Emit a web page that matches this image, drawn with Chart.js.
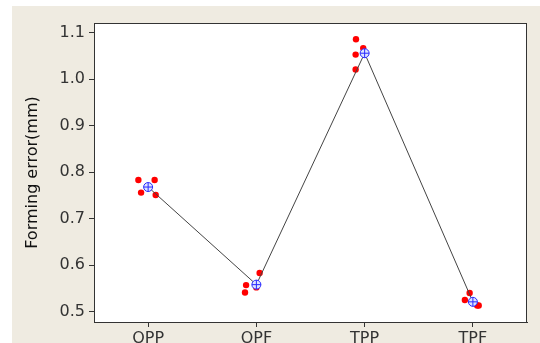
<!DOCTYPE html>
<html>
<head>
<meta charset="utf-8">
<script src="https://cdn.jsdelivr.net/npm/chart.js@4"></script>
<style>
  html, body { margin: 0; padding: 0; background: #fff; }
  #wrap { position: absolute; left: 12px; top: 6px; width: 528px; height: 337px; background: #efebe1; }
</style>
</head>
<body>
<div id="wrap"><canvas id="chart" width="528" height="337"></canvas></div>
<script>
// categorias e valores
const categories = ['OPP', 'OPF', 'TPP', 'TPF'];
const means = [0.768, 0.558, 1.056, 0.521];

// observacoes (4 por grupo) e deslocamento horizontal (jitter) de cada uma
const obsOPP = [0.783, 0.783, 0.756, 0.751];
const obsOPF = [0.557, 0.541, 0.552, 0.583];
const obsTPP = [1.086, 1.067, 1.053, 1.021];
const obsTPF = [0.540, 0.525, 0.513, 0.513];
const jitOPP = [-0.09, 0.06, -0.065, 0.07];
const jitOPF = [-0.095, -0.105, 0.0, 0.03];
const jitTPP = [-0.08, -0.013, -0.083, -0.083];
const jitTPF = [-0.03, -0.074, 0.054, 0.04];

const yTicks = [0.5, 0.6, 0.7, 0.8, 0.9, 1.0, 1.1];

const groups = [[obsOPP, jitOPP], [obsOPF, jitOPF], [obsTPP, jitTPP], [obsTPF, jitTPF]];
const redPts = [];
groups.forEach((g, i) => g[0].forEach((v, k) => redPts.push({ x: i + 1 + g[1][k], y: v })));
const meanPts = means.map((v, i) => ({ x: i + 1, y: v }));

// fundo branco e borda em volta da area do grafico
const frame = {
    id: 'frame',
    beforeDraw(chart) {
        const a = chart.chartArea, c = chart.ctx;
        c.save();
        c.fillStyle = '#fff';
        c.fillRect(a.left, a.top, a.right - a.left, a.bottom - a.top);
        c.restore();
    },
    afterDraw(chart) {
        const a = chart.chartArea, c = chart.ctx;
        c.save();
        c.strokeStyle = '#333';
        c.lineWidth = 1;
        c.strokeRect(a.left + 0.5, a.top + 0.5, a.right - a.left - 1, a.bottom - a.top);
        c.restore();
    }
};

new Chart(document.getElementById('chart'), {
    type: 'scatter',
    data: {
        datasets: [
            { type: 'scatter', data: meanPts, pointStyle: 'cross', pointRadius: 4.5,
              pointBorderColor: '#2a2aff', pointBorderWidth: 1, order: 0 },
            { type: 'line', data: meanPts, borderColor: '#444', borderWidth: 1, tension: 0,
              pointStyle: 'circle', pointRadius: 4.5, pointBorderColor: '#2a2aff',
              pointBackgroundColor: '#dde4ff', pointBorderWidth: 1, order: 1 },
            { type: 'scatter', data: redPts, pointStyle: 'circle', pointRadius: 3.2,
              pointBackgroundColor: '#ff0000', pointBorderColor: '#ff0000', pointBorderWidth: 0, order: 2 }
        ]
    },
    options: {
        responsive: false,
        animation: false,
        layout: { padding: { top: 17, right: 13, left: 0, bottom: 0 } },
        plugins: { legend: { display: false }, tooltip: { enabled: false } },
        scales: {
            x: {
                type: 'linear', min: 0.5, max: 4.5,
                afterBuildTicks: s => { s.ticks = categories.map((c, i) => ({ value: i + 1 })); },
                afterFit: s => { s.height = 21; },
                grid: { drawOnChartArea: false, drawTicks: true, tickLength: 5, color: '#333' },
                border: { color: '#333' },
                ticks: { padding: 2, color: '#333', font: { family: 'DejaVu Sans', size: 16 },
                         callback: v => categories[v - 1] }
            },
            y: {
                min: 0.4776, max: 1.121,
                afterBuildTicks: s => { s.ticks = yTicks.map(v => ({ value: v })); },
                afterFit: s => { s.width = 82; },
                grid: { drawOnChartArea: false, drawTicks: true, tickLength: 5, color: '#333' },
                border: { color: '#333' },
                ticks: { padding: 4, color: '#333', font: { family: 'DejaVu Sans', size: 16 },
                         callback: v => v.toFixed(1) },
                title: { display: true, text: 'Forming error(mm)', color: '#111',
                         font: { family: 'DejaVu Sans', size: 16 }, padding: { top: 11, bottom: 0 } }
            }
        }
    },
    plugins: [frame]
});
</script>
</body>
</html>
